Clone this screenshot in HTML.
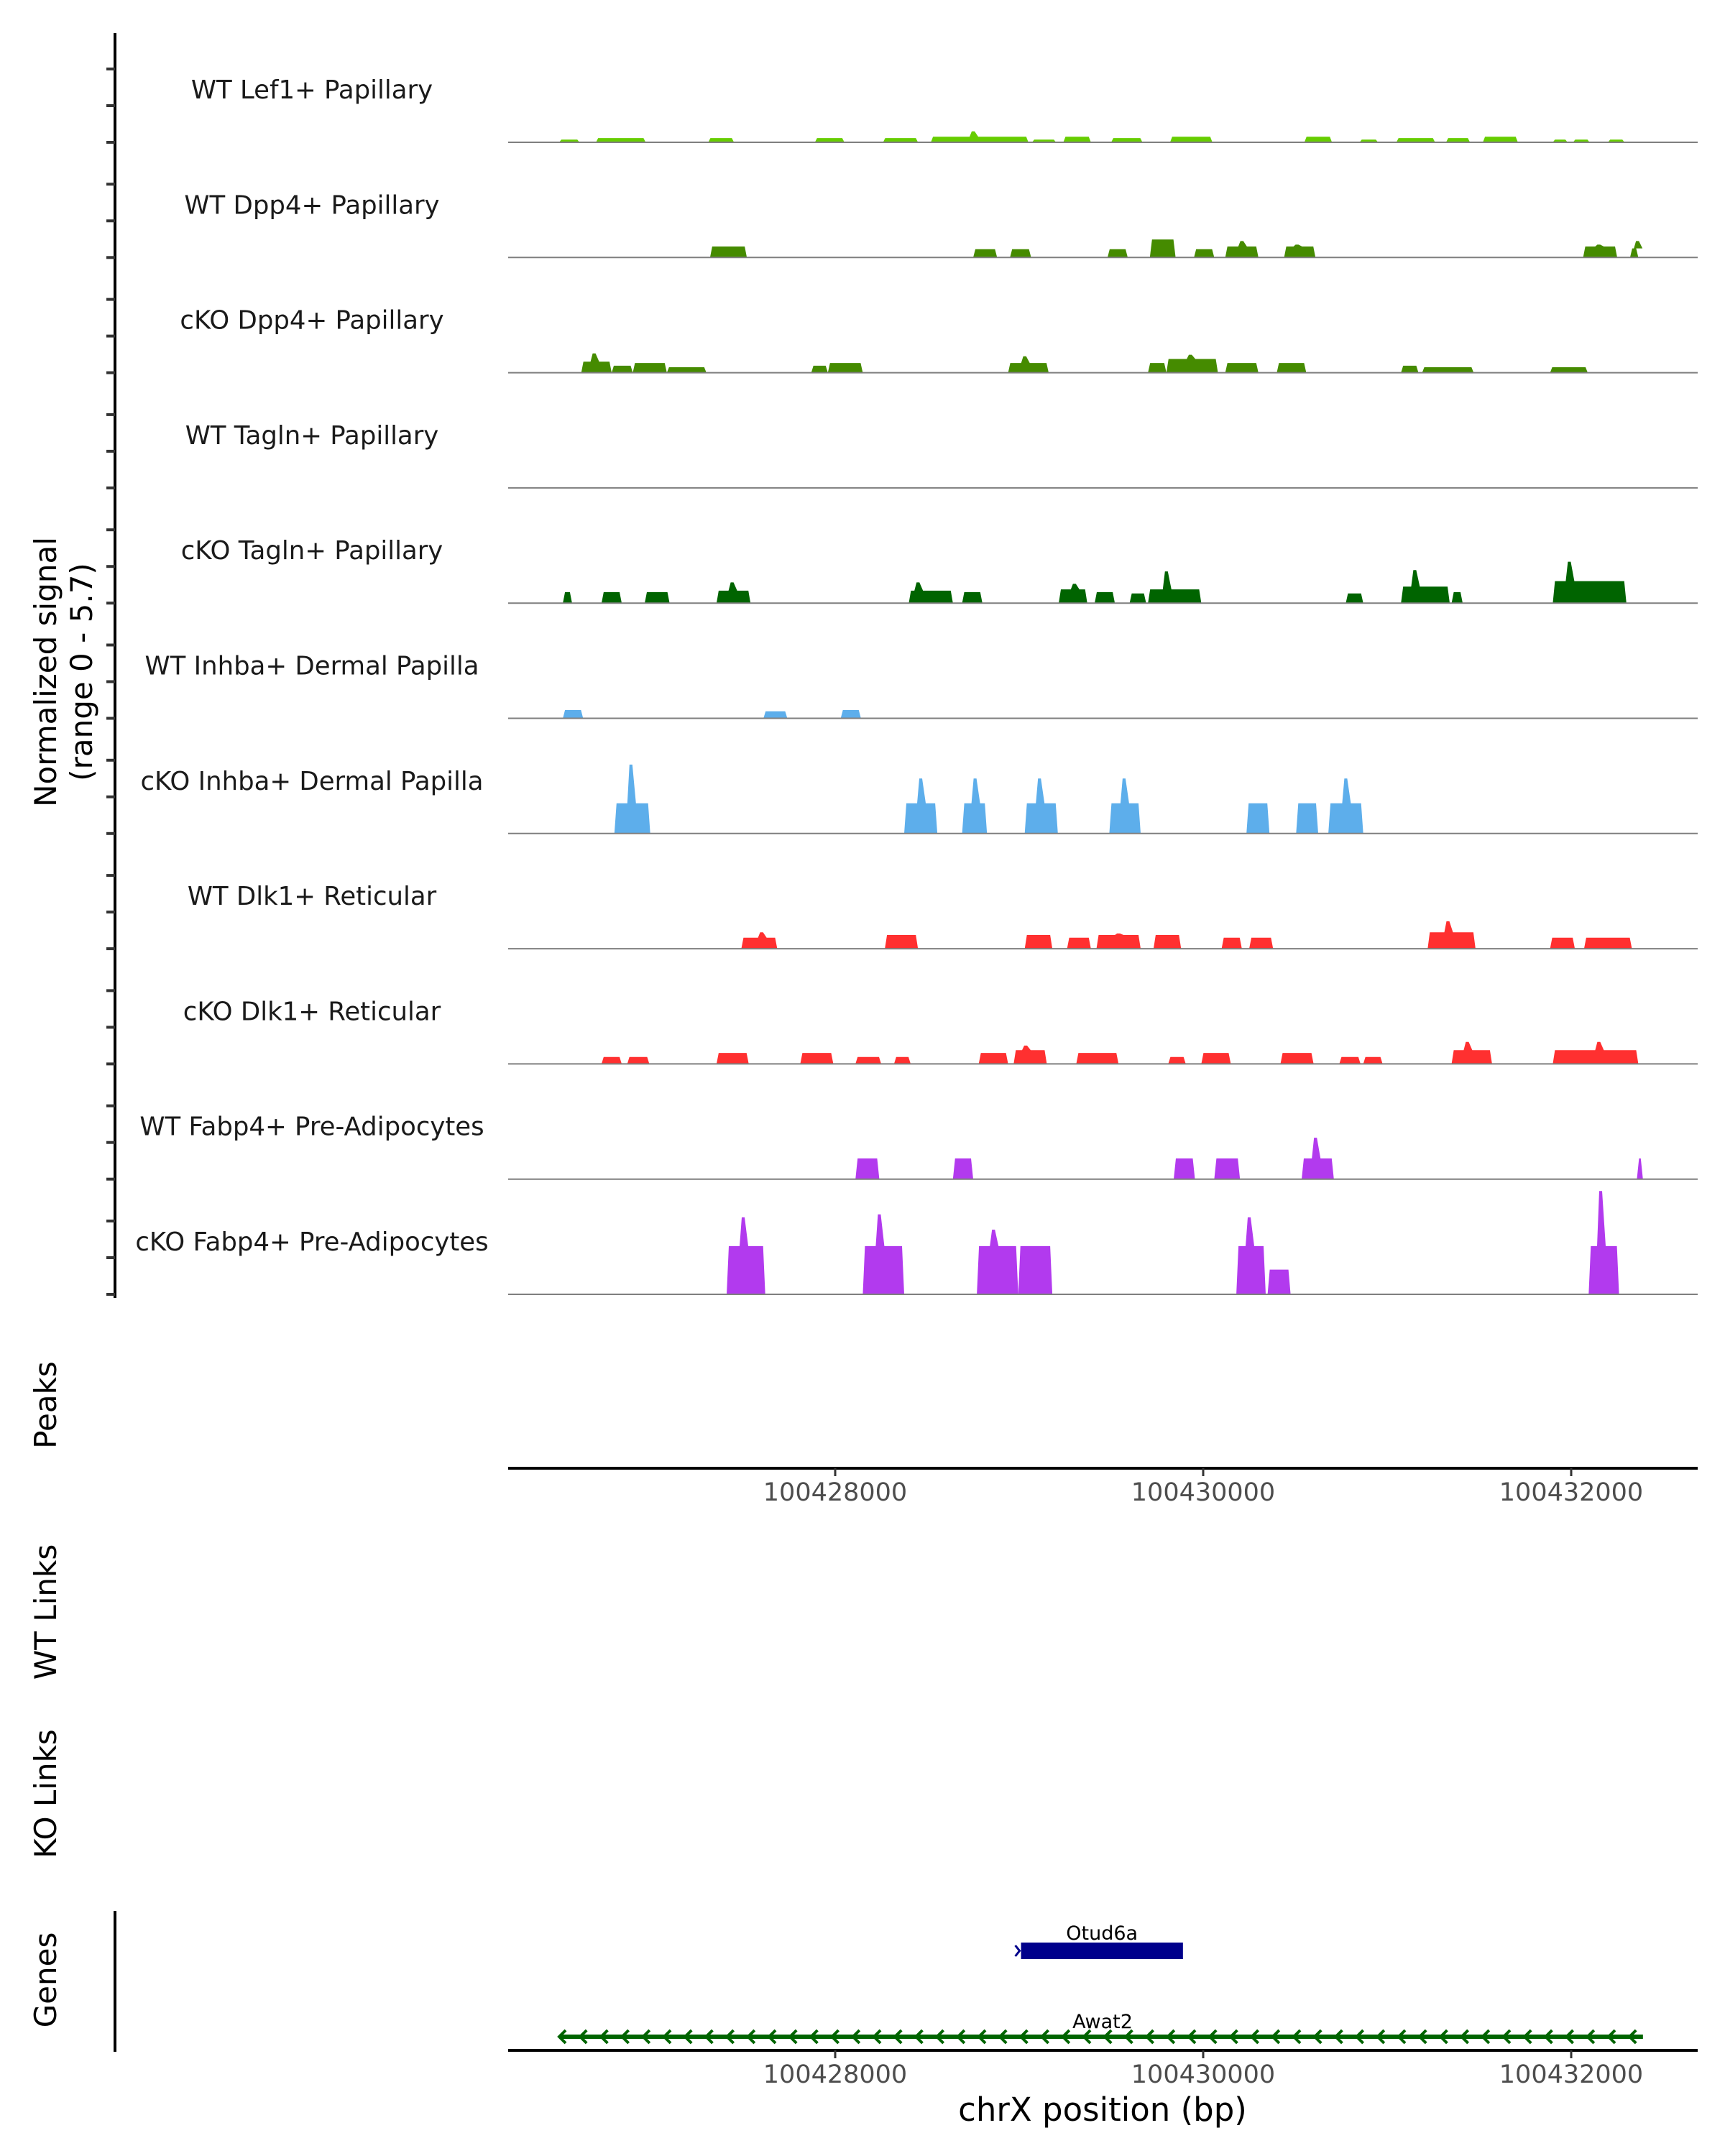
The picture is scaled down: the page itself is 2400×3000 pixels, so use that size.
<!DOCTYPE html>
<html><head><meta charset="utf-8">
<style>
html,body{margin:0;padding:0;background:#fff;}
svg{display:block;font-family:"DejaVu Sans","Liberation Sans",sans-serif;}
</style></head>
<body>
<svg id="chart" width="2400" height="3000" viewBox="0 0 2400 3000" xmlns="http://www.w3.org/2000/svg">
<g id="axes"></g>
<g id="tracks"></g>
<g id="genes"></g>
</svg>
<script>
// ---- data ----
const trackNames = ["WT Lef1+ Papillary","WT Dpp4+ Papillary","cKO Dpp4+ Papillary","WT Tagln+ Papillary","cKO Tagln+ Papillary","WT Inhba+ Dermal Papilla","cKO Inhba+ Dermal Papilla","WT Dlk1+ Reticular","cKO Dlk1+ Reticular","WT Fabp4+ Pre-Adipocytes","cKO Fabp4+ Pre-Adipocytes"];
const trackColors = ["#66cd00","#458b00","#458b00","#006400","#006400","#5daeeb","#5daeeb","#ff3030","#ff3030","#b23aee","#b23aee"];
const xTicks = [100428000,100430000,100432000];
const yTickValues = [0,2,4];

const lef1Start=[100426500,100426700,100427310,100427890,100428260,100428520,100429070,100429240,100429500,100429820,100430550,100430850,100431050,100431320,100431520,100431900,100432010,100432200];
const lef1End=[100426610,100426970,100427450,100428050,100428450,100429050,100429200,100429390,100429670,100430050,100430700,100430950,100431260,100431450,100431710,100431980,100432100,100432290];
const lef1H=[0.15,0.23,0.23,0.23,0.23,0.3,0.15,0.3,0.23,0.3,0.3,0.15,0.23,0.23,0.3,0.15,0.15,0.15];
const lef1Sp=[0,0,0,0,0,100428750,0,0,0,0,0,0,0,0,0,0,0,0];
const lef1Sh=[0,0,0,0,0,0.6,0,0,0,0,0,0,0,0,0,0,0,0];

const wtDppStart=[100427320,100428750,100428950,100429480,100429710,100429950,100430120,100430440,100432065,100432320];
const wtDppEnd=[100427520,100428880,100429065,100429590,100429850,100430060,100430300,100430610,100432250,100432365];
const wtDppH=[0.6,0.45,0.45,0.45,0.98,0.45,0.6,0.6,0.6,0.5];
const wtDppSp=[0,0,0,0,0,0,100430210,100430510,100432150,100432360];
const wtDppSh=[0,0,0,0,0,0,0.9,0.7,0.7,0.9];

const koDppStart=[100426620,100426785,100426900,100427085,100427870,100427960,100428940,100429700,100429800,100430120,100430400,100431075,100431190,100431885];
const koDppEnd=[100426785,100426900,100427085,100427300,100427960,100428150,100429160,100429800,100430080,100430300,100430560,100431170,100431470,100432090];
const koDppH=[0.6,0.38,0.53,0.3,0.38,0.53,0.53,0.53,0.75,0.53,0.53,0.38,0.3,0.3];
const koDppSp=[100426690,0,0,0,0,0,100429030,0,100429930,0,0,0,0,0];
const koDppSh=[1.05,0,0,0,0,0,0.9,0,0.98,0,0,0,0,0];

const wtTagStart=[], wtTagEnd=[], wtTagH=[], wtTagSp=[], wtTagSh=[];

const koTagStart=[100426520,100426730,100426965,100427355,100428400,100428690,100429215,100429410,100429600,100429700,100430775,100431075,100431350,100431900];
const koTagEnd=[100426570,100426840,100427100,100427540,100428640,100428800,100429370,100429520,100429690,100429990,100430870,100431340,100431410,100432300];
const koTagH=[0.6,0.6,0.6,0.68,0.68,0.6,0.75,0.6,0.53,0.75,0.53,0.9,0.6,1.2];
const koTagSp=[0,0,0,100427440,100428450,0,100429300,0,0,100429800,0,100431150,0,100431990];
const koTagSh=[0,0,0,1.13,1.13,0,1.05,0,0,1.73,0,1.8,0,2.26];

const wtInhStart=[100426520,100427610,100428030];
const wtInhEnd=[100426630,100427740,100428140];
const wtInhH=[0.45,0.38,0.45];
const wtInhSp=[0,0,0];
const wtInhSh=[0,0,0];

const koInhStart=[100426800,100428375,100428690,100429030,100429490,100430235,100430505,100430680];
const koInhEnd=[100426995,100428555,100428825,100429210,100429660,100430360,100430625,100430870];
const koInhH=[1.65,1.65,1.65,1.65,1.65,1.65,1.65,1.65];
const koInhSp=[100426890,100428465,100428760,100429110,100429570,0,0,100430775];
const koInhSh=[3.76,3.0,3.0,3.0,3.0,0,0,3.0];

const wtDlkStart=[100427490,100428270,100429030,100429260,100429420,100429730,100430100,100430250,100431220,100431885,100432070];
const wtDlkEnd=[100427685,100428450,100429180,100429390,100429660,100429880,100430210,100430380,100431480,100432020,100432330];
const wtDlkH=[0.6,0.75,0.75,0.6,0.75,0.75,0.6,0.6,0.9,0.6,0.6];
const wtDlkSp=[100427600,0,0,0,100429540,0,0,0,100431330,0,0];
const wtDlkSh=[0.9,0,0,0,0.83,0,0,0,1.5,0,0];

const koDlkStart=[100426730,100426870,100427355,100427810,100428110,100428320,100428780,100428970,100429310,100429810,100429990,100430420,100430740,100430870,100431350,100431900];
const koDlkEnd=[100426840,100426990,100427530,100427990,100428250,100428410,100428940,100429150,100429540,100429905,100430150,100430600,100430855,100430975,100431570,100432365];
const koDlkH=[0.38,0.38,0.6,0.6,0.38,0.38,0.6,0.75,0.6,0.38,0.6,0.6,0.38,0.38,0.75,0.75];
const koDlkSp=[0,0,0,0,0,0,0,100429035,0,0,0,0,0,0,100431435,100432150];
const koDlkSh=[0,0,0,0,0,0,0,1.0,0,0,0,0,0,0,1.2,1.2];

const wtFabStart=[100428110,100428640,100429840,100430060,100430535,100432357];
const wtFabEnd=[100428240,100428750,100429955,100430200,100430710,100432390];
const wtFabH=[1.13,1.13,1.13,1.13,1.13,1.13];
const wtFabSp=[0,0,0,0,100430610,0];
const wtFabSh=[0,0,0,0,2.26,0];

const koFabStart=[100427410,100428150,100428770,100428995,100430180,100430350,100432095];
const koFabEnd=[100427620,100428375,100428995,100429180,100430340,100430475,100432260];
const koFabH=[2.63,2.63,2.63,2.63,2.63,1.35,2.63];
const koFabSp=[100427500,100428240,100428860,0,100430250,0,100432160];
const koFabSh=[4.2,4.36,3.53,0,4.2,0,5.64];

const geneNames=["Otud6a","Awat2"];
const geneStart=[100429010,100426500];
const geneEnd=[100429890,100432390];

const tracks=[[lef1Start,lef1End,lef1H,lef1Sp,lef1Sh],[wtDppStart,wtDppEnd,wtDppH,wtDppSp,wtDppSh],[koDppStart,koDppEnd,koDppH,koDppSp,koDppSh],[wtTagStart,wtTagEnd,wtTagH,wtTagSp,wtTagSh],[koTagStart,koTagEnd,koTagH,koTagSp,koTagSh],[wtInhStart,wtInhEnd,wtInhH,wtInhSp,wtInhSh],[koInhStart,koInhEnd,koInhH,koInhSp,koInhSh],[wtDlkStart,wtDlkEnd,wtDlkH,wtDlkSp,wtDlkSh],[koDlkStart,koDlkEnd,koDlkH,koDlkSp,koDlkSh],[wtFabStart,wtFabEnd,wtFabH,wtFabSp,wtFabSh],[koFabStart,koFabEnd,koFabH,koFabSp,koFabSh]];

// ---- scales ----
const NS="http://www.w3.org/2000/svg";
const X0=707, X1=2362;
function xs(bp){return 1162+(bp-100428000)*0.256;}
function baseY(i){return 198+i*160.3;}
function ys(v){return v*25.5;}
function mk(tag,attrs,parent,text){const e=document.createElementNS(NS,tag);for(const k in attrs)e.setAttribute(k,attrs[k]);if(text!==undefined)e.textContent=text;parent.appendChild(e);return e;}

const axes=document.getElementById('axes');
const tg=document.getElementById('tracks');
const gg=document.getElementById('genes');

let el=mk('line',{x1:160,y1:46,x2:160,y2:1806,stroke:'#000','stroke-width':4},axes);


for(let i=0;i<trackNames.length;i++){
  for(const v of yTickValues){
    const y=baseY(i)-ys(v);
    el=mk('line',{x1:148,y1:y,x2:160,y2:y,stroke:'#333','stroke-width':4},axes);
    
    
  }
}
el=mk('text',{x:0,y:0,'font-size':42,fill:'#000','text-anchor':'middle',transform:'translate(78,935) rotate(-90)'},axes,'Normalized signal');


el=mk('text',{x:0,y:0,'font-size':42,fill:'#000','text-anchor':'middle',transform:'translate(128,935) rotate(-90)'},axes,'(range 0 - 5.7)');



const sideLabels=[["Peaks",1955,'peaks-label'],["WT Links",2243,'wt-links-label'],["KO Links",2496,'ko-links-label'],["Genes",2755,'genes-label']];
for(const [t,y,n] of sideLabels){
  el=mk('text',{x:0,y:0,'font-size':42,fill:'#000','text-anchor':'middle',transform:'translate(78,'+y+') rotate(-90)'},axes,t);
  
  
}

for(let i=0;i<trackNames.length;i++){
  const b=baseY(i);
  const g=mk('g',{},tg);
  
  
  el=mk('text',{x:434,y:b-61,'font-size':35.5,fill:'#1a1a1a','text-anchor':'middle'},g,trackNames[i]);
  
  
  const [st,en,h,sp,sh]=tracks[i];
  for(let k=0;k<st.length;k++){
    const xa=xs(st[k]), xb=xs(en[k]), hy=b-ys(h[k]);
    const pts=[[xa,b],[xa+3,hy]];
    if(sp[k]){const xc=xs(sp[k]);pts.push([xc-5,hy],[xc-2,b-ys(sh[k])],[xc+2,b-ys(sh[k])],[xc+7,hy]);}
    pts.push([xb-3,hy],[xb,b]);
    el=mk('polygon',{points:pts.map(p=>p[0].toFixed(1)+','+p[1].toFixed(1)).join(' '),fill:trackColors[i]},g);
    
    
  }
  el=mk('line',{x1:X0,y1:b,x2:X1,y2:b,stroke:'#7f7f7f','stroke-width':2},g);
  
  
}

function xAxis(y,name){
  el=mk('line',{x1:X0,y1:y,x2:X1,y2:y,stroke:'#000','stroke-width':4},axes);
  
  
  for(const t of xTicks){
    const x=xs(t);
    el=mk('line',{x1:x,y1:y,x2:x,y2:y+11,stroke:'#333','stroke-width':3},axes);
    
    
    el=mk('text',{x:x,y:y+45,'font-size':35,fill:'#4d4d4d','text-anchor':'middle'},axes,String(t));
    
    
  }
}
xAxis(2043,'peaks-x-axis');
xAxis(2853,'genes-x-axis');
el=mk('line',{x1:160,y1:2659,x2:160,y2:2855,stroke:'#000','stroke-width':4},axes);


el=mk('text',{x:1534,y:2951,'font-size':45,fill:'#000','text-anchor':'middle'},axes,'chrX position (bp)');



{
  const xa=xs(geneStart[0]), xb=xs(geneEnd[0]);
  el=mk('rect',{x:xa,y:2703,width:xb-xa,height:23,fill:'#00008b'},gg);
  
  
  el=mk('path',{d:'M'+(xa-8)+',2707 L'+(xa-2)+',2714.5 L'+(xa-8)+',2722',stroke:'#00008b','stroke-width':3,fill:'none'},gg);
  
  
  el=mk('text',{x:(xa+xb)/2,y:2699,'font-size':27,fill:'#000','text-anchor':'middle'},gg,geneNames[0]);
  
  

  const ya=2834, x2a=xs(geneStart[1]), x2b=xs(geneEnd[1]);
  el=mk('line',{x1:x2a,y1:ya,x2:x2b,y2:ya,stroke:'#006400','stroke-width':6},gg);
  
  
  let d='';
  for(let x=x2a;x<x2b-10;x+=29.2){d+='M'+(x+9)+','+(ya-9)+' L'+x+','+ya+' L'+(x+9)+','+(ya+9)+' ';}
  el=mk('path',{d:d,stroke:'#006400','stroke-width':4,fill:'none'},gg);
  
  
  el=mk('text',{x:1534,y:2822,'font-size':27,fill:'#000','text-anchor':'middle'},gg,geneNames[1]);
  
  
}
</script>
</body></html>
